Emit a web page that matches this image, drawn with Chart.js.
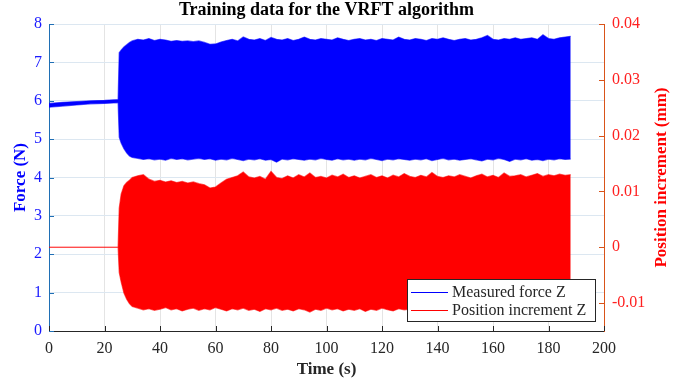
<!DOCTYPE html>
<html>
<head>
<meta charset="utf-8">
<script src="https://cdn.jsdelivr.net/npm/chart.js@4/dist/chart.umd.min.js"></script>
<style>
  html, body { margin: 0; padding: 0; background: #fff; }
  #wrap { width: 695px; height: 386px; }
</style>
</head>
<body>
<div id="wrap"><canvas id="myChart" width="695" height="386"></canvas></div>
<script>
// time (s) of each envelope sample
var time = [0, 5, 10, 15, 20, 24.9, 25.3, 26, 27, 28, 29,
  30, 32, 34, 36, 38, 40, 42, 44, 46, 48, 50, 52, 54, 56, 58, 60, 62, 64, 66, 68,
  70, 72, 74, 76, 78, 80, 82, 84, 86, 88, 90, 92, 94, 96, 98, 100, 102, 104, 106, 108,
  110, 112, 114, 116, 118, 120, 122, 124, 126, 128, 130, 132, 134, 136, 138, 140, 142, 144, 146, 148,
  150, 152, 154, 156, 158, 160, 162, 164, 166, 168, 170, 172, 174, 176, 178, 180, 182, 184, 186, 188];

// measured force Z (N): upper / lower envelope of the oscillation
var forceHigh = [5.93, 5.96, 5.98, 6.0, 6.01, 6.03, 7.25, 7.32, 7.4, 7.46, 7.52,
  7.56, 7.6, 7.58, 7.62, 7.57, 7.6, 7.58, 7.55, 7.57, 7.55,
  7.56, 7.54, 7.56, 7.52, 7.47, 7.48, 7.53, 7.57, 7.6, 7.56,
  7.66, 7.6, 7.58, 7.62, 7.57, 7.65, 7.6, 7.58, 7.62, 7.57,
  7.6, 7.66, 7.6, 7.58, 7.62, 7.6, 7.58, 7.64, 7.6, 7.57,
  7.6, 7.62, 7.58, 7.6, 7.57, 7.62, 7.6, 7.58, 7.66, 7.6,
  7.58, 7.62, 7.6, 7.57, 7.62, 7.6, 7.64, 7.6, 7.57, 7.6,
  7.62, 7.58, 7.6, 7.64, 7.7, 7.6, 7.58, 7.62, 7.6, 7.64,
  7.6, 7.62, 7.64, 7.6, 7.72, 7.62, 7.6, 7.64, 7.66, 7.68];
var forceLow = [5.83, 5.86, 5.89, 5.92, 5.93, 5.95, 5.05, 4.9, 4.75, 4.64, 4.56,
  4.52, 4.5, 4.47, 4.49, 4.46, 4.48, 4.45, 4.5, 4.47, 4.49,
  4.46, 4.48, 4.5, 4.47, 4.49, 4.45, 4.48, 4.46, 4.5, 4.47,
  4.44, 4.48, 4.46, 4.49, 4.45, 4.47, 4.4, 4.48, 4.46, 4.49,
  4.47, 4.45, 4.48, 4.46, 4.5, 4.47, 4.45, 4.49, 4.46, 4.48,
  4.45, 4.48, 4.46, 4.5, 4.47, 4.44, 4.48, 4.46, 4.49, 4.47,
  4.45, 4.48, 4.46, 4.49, 4.44, 4.47, 4.5, 4.46, 4.48, 4.45,
  4.47, 4.49, 4.46, 4.43, 4.48, 4.46, 4.5, 4.47, 4.42, 4.48,
  4.46, 4.49, 4.45, 4.47, 4.44, 4.48, 4.46, 4.49, 4.47, 4.48];

// position increment Z (mm): upper / lower envelope
var posHigh = [0, 0, 0, 0, 0, 0, 0.007, 0.0095, 0.011, 0.0116, 0.012,
  0.0125, 0.0128, 0.013, 0.0122, 0.0118, 0.012, 0.0117, 0.0119, 0.0116, 0.0118,
  0.0115, 0.0117, 0.0114, 0.0112, 0.0106, 0.0108, 0.0115, 0.0122, 0.0125, 0.0128,
  0.0135, 0.0126, 0.0124, 0.0127, 0.0122, 0.0136, 0.0125, 0.0123, 0.0128, 0.0124,
  0.013, 0.0126, 0.0133, 0.0125, 0.0127, 0.0124, 0.0129, 0.0126, 0.0131, 0.0125,
  0.0128, 0.0124, 0.0127, 0.013, 0.0125, 0.0128, 0.0124, 0.0129, 0.0126, 0.0132,
  0.0127, 0.0125, 0.0129, 0.0126, 0.0134, 0.0127, 0.0125, 0.0128, 0.0126, 0.013,
  0.0127, 0.0124, 0.0128, 0.0131, 0.0126, 0.0129, 0.0125, 0.0133, 0.0127, 0.0128,
  0.013, 0.0126, 0.0129, 0.0132, 0.0127, 0.013, 0.0128, 0.0131, 0.0129, 0.013];
var posLow = [0, 0, 0, 0, 0, 0, -0.0045, -0.0062, -0.0082, -0.0093, -0.0101,
  -0.0106, -0.0109, -0.0112, -0.011, -0.0113, -0.0111, -0.0108, -0.0112, -0.011, -0.0114,
  -0.0111, -0.0109, -0.0113, -0.011, -0.0112, -0.0108, -0.0111, -0.0114, -0.011, -0.0112,
  -0.0109, -0.0113, -0.0111, -0.0115, -0.011, -0.0112, -0.0109, -0.0113, -0.0111, -0.0114,
  -0.011, -0.0112, -0.0116, -0.0111, -0.0113, -0.0109, -0.0112, -0.011, -0.0114, -0.0111,
  -0.0113, -0.011, -0.0115, -0.0111, -0.0113, -0.0109, -0.0112, -0.0114, -0.011, -0.0112,
  -0.0111, -0.0113, -0.0109, -0.0112, -0.0115, -0.011, -0.0113, -0.0111, -0.0114, -0.011,
  -0.0112, -0.0109, -0.0113, -0.0111, -0.0114, -0.011, -0.0112, -0.0113, -0.0111, -0.0114,
  -0.011, -0.0112, -0.0113, -0.0111, -0.0114, -0.0112, -0.011, -0.0113, -0.0111, -0.0112];

var legendLabels = ["Measured force Z", "Position increment Z"];

var FONT = "'Liberation Serif', 'Times New Roman', serif";
var LEFT_COLOR = "#1f6fb5";
var RIGHT_COLOR = "#d95319";
var AXIS_GRAY = "#262626";

function pts(ys) {
  return time.map(function (t, i) { return { x: t, y: ys[i] }; });
}

// inward MATLAB-style ticks, titles and the boxed legend
var decor = {
  id: "decor",
  afterDatasetsDraw: function (chart) {
    var ctx = chart.ctx, a = chart.chartArea, s = chart.scales;
    ctx.save();
    ctx.lineWidth = 1;
    ctx.strokeStyle = AXIS_GRAY;
    s.x.ticks.forEach(function (tk) {
      var px = Math.round(s.x.getPixelForValue(tk.value)) + 0.5;
      ctx.beginPath(); ctx.moveTo(px, a.bottom); ctx.lineTo(px, a.bottom - 5); ctx.stroke();
    });
    ctx.strokeStyle = LEFT_COLOR;
    s.y.ticks.forEach(function (tk) {
      var py = Math.round(s.y.getPixelForValue(tk.value)) + 0.5;
      ctx.beginPath(); ctx.moveTo(a.left, py); ctx.lineTo(a.left + 5, py); ctx.stroke();
    });
    ctx.strokeStyle = RIGHT_COLOR;
    s.y1.ticks.forEach(function (tk) {
      var py = Math.round(s.y1.getPixelForValue(tk.value)) + 0.5;
      ctx.beginPath(); ctx.moveTo(a.right, py); ctx.lineTo(a.right - 5, py); ctx.stroke();
    });

    // legend
    var bx = 407.5, by = 279.5, bw = 188, bh = 42;
    ctx.fillStyle = "#fff";
    ctx.fillRect(bx, by, bw, bh);
    ctx.strokeStyle = AXIS_GRAY;
    ctx.strokeRect(bx, by, bw, bh);
    var cols = ["#0000ff", "#ff0000"];
    ctx.font = "16px " + FONT;
    ctx.textBaseline = "middle";
    ctx.textAlign = "left";
    legendLabels.forEach(function (lab, i) {
      var ly = 292.5 + i * 18;
      ctx.strokeStyle = cols[i];
      ctx.beginPath(); ctx.moveTo(411, ly); ctx.lineTo(448, ly); ctx.stroke();
      ctx.fillStyle = AXIS_GRAY;
      ctx.fillText(lab, 452, ly);
    });

    // chart title
    ctx.font = "bold 18px " + FONT;
    ctx.fillStyle = "#000";
    ctx.textAlign = "center";
    ctx.fillText("Training data for the VRFT algorithm", (a.left + a.right) / 2, 10);

    // right axis title, reading bottom to top
    ctx.translate(662, (a.top + a.bottom) / 2);
    ctx.rotate(-Math.PI / 2);
    ctx.font = "bold 17px " + FONT;
    ctx.fillStyle = "#ff0000";
    ctx.fillText("Position increment (mm)", 0, 0);
    ctx.restore();
  }
};

document.addEventListener("DOMContentLoaded", function () {
  var ctx = document.getElementById("myChart").getContext("2d");
  new Chart(ctx, {
    type: "line",
    data: {
      datasets: [
        { label: "Position increment Z", data: pts(posHigh), yAxisID: "y1", order: 0,
          borderColor: "rgba(255,0,0,0.6)", borderWidth: 1.2, backgroundColor: "#ff0000", fill: "+1" },
        { label: "pos low", data: pts(posLow), yAxisID: "y1", order: 0,
          borderColor: "rgba(255,0,0,0.6)", borderWidth: 1.2, fill: false },
        { label: "Measured force Z", data: pts(forceHigh), yAxisID: "y", order: 1,
          borderColor: "rgba(0,0,255,0.6)", borderWidth: 1.2, backgroundColor: "#0000ff", fill: "+1" },
        { label: "force low", data: pts(forceLow), yAxisID: "y", order: 1,
          borderColor: "rgba(0,0,255,0.6)", borderWidth: 1.2, fill: false }
      ]
    },
    options: {
      responsive: false,
      animation: false,
      devicePixelRatio: 1,
      layout: { padding: { top: 24, left: 0, right: 0, bottom: 0 } },
      elements: { point: { radius: 0 }, line: { tension: 0 } },
      plugins: { legend: { display: false }, tooltip: { enabled: false } },
      scales: {
        x: {
          type: "linear", min: 0, max: 200,
          ticks: { stepSize: 20, color: AXIS_GRAY, padding: 8, font: { family: FONT, size: 16 } },
          grid: { color: "#e4e4e4", drawTicks: false },
          border: { color: AXIS_GRAY },
          title: { display: true, text: "Time (s)", color: AXIS_GRAY,
            font: { family: FONT, size: 17, weight: "bold" }, padding: { top: 0, bottom: 6 } },
          afterFit: function (sc) { sc.height = 55; }
        },
        y: {
          position: "left", min: 0, max: 8,
          ticks: { stepSize: 1, color: "#1a1aff", padding: 7, font: { family: FONT, size: 16 } },
          grid: { color: "#dce7f1", drawTicks: false },
          border: { color: LEFT_COLOR },
          title: { display: true, text: "Force (N)", color: "#0000ff",
            font: { family: FONT, size: 17, weight: "bold" }, padding: { top: 10, bottom: 0 } },
          afterFit: function (sc) { sc.width = 49; }
        },
        y1: {
          position: "right", min: -0.015, max: 0.04,
          ticks: { stepSize: 0.01, includeBounds: false, color: "#ff2020", padding: 8,
            font: { family: FONT, size: 16 },
            callback: function (v) { return String(Number(v.toFixed(3))); } },
          grid: { drawOnChartArea: false, drawTicks: false },
          border: { color: RIGHT_COLOR },
          afterFit: function (sc) { sc.width = 91; }
        }
      }
    },
    plugins: [decor]
  });
});
</script>
</body>
</html>
